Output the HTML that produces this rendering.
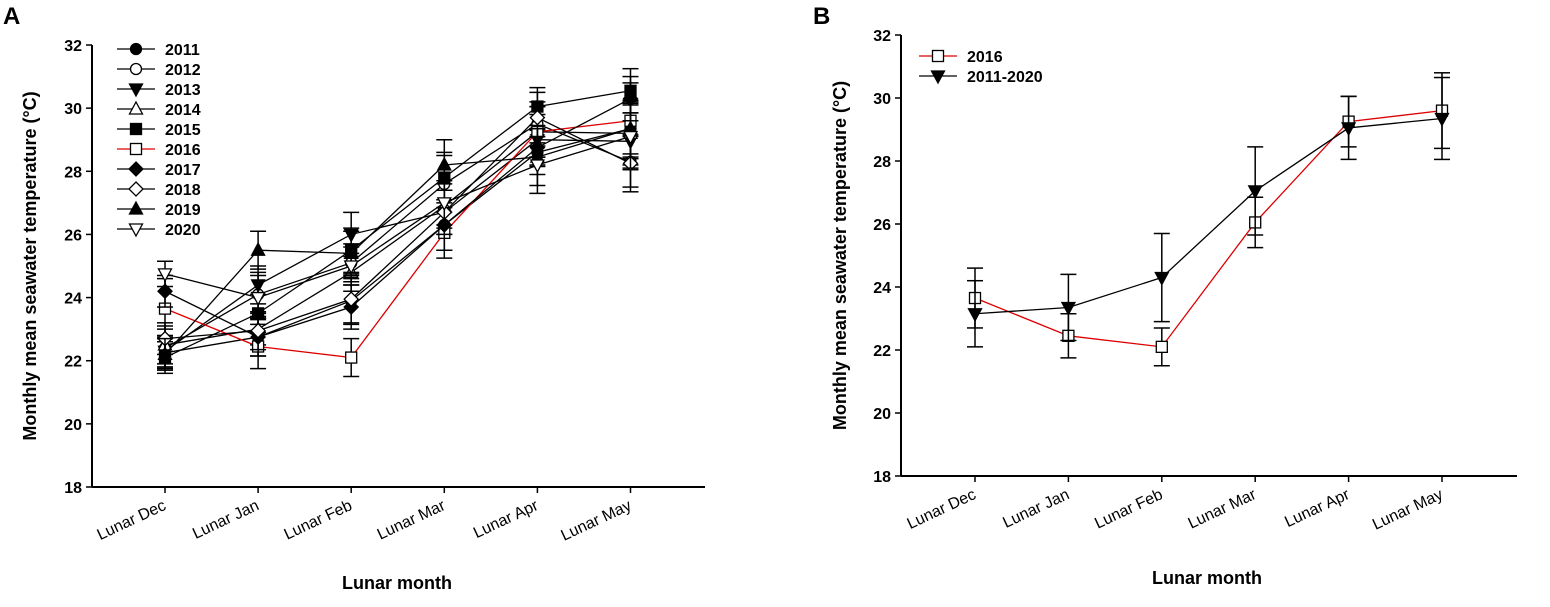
<!DOCTYPE html>
<html><head><meta charset="utf-8">
<style>
html,body{margin:0;padding:0;background:#fff;}
svg{display:block;font-family:"Liberation Sans",Arial,sans-serif;}
</style></head>
<body>
<svg id="chart" width="1550" height="607" viewBox="0 0 1550 607" xmlns="http://www.w3.org/2000/svg"></svg>
<script>
const months = ["Lunar Dec","Lunar Jan","Lunar Feb","Lunar Mar","Lunar Apr","Lunar May"];
const yTicks = [18,20,22,24,26,28,30,32];
const yearsA = ["2011","2012","2013","2014","2015","2016","2017","2018","2019","2020"];
const markersA = ["circleF","circleO","triDF","triUO","squareF","squareO","diamondF","diamondO","triUF","triDO"];
const v2011 = [22.25,22.75,23.9,26.3,28.6,29.35];
const v2012 = [22.4,24.1,25.1,27.6,29.5,28.3];
const v2013 = [22.3,24.4,26.0,26.7,29.0,28.95];
const v2014 = [22.5,23.0,24.8,26.9,29.25,29.2];
const v2015 = [22.1,23.5,25.5,27.8,30.05,30.55];
const v2016 = [23.65,22.45,22.1,26.05,29.25,29.6];
const v2017 = [24.2,22.75,23.7,26.3,28.75,30.3];
const v2018 = [22.7,22.95,23.95,26.7,29.7,28.25];
const v2019 = [22.2,25.5,25.4,28.2,28.45,29.35];
const v2020 = [24.75,24.0,25.0,27.0,28.2,29.1];
const e2011 = [0.5,0.6,0.7,0.8,0.7,0.9];
const e2012 = [0.6,0.7,0.6,0.9,0.7,0.8];
const e2013 = [0.5,0.6,0.7,0.7,0.8,0.9];
const e2014 = [0.6,0.5,0.6,0.7,0.8,1.0];
const e2015 = [0.5,0.6,0.7,0.8,0.6,0.7];
const e2016 = [0.95,0.7,0.6,0.8,0.8,1.2];
const e2017 = [0.5,0.6,0.7,0.8,0.6,0.7];
const e2018 = [0.5,0.6,0.8,0.7,0.8,0.9];
const e2019 = [0.5,0.6,0.7,0.8,0.9,0.8];
const e2020 = [0.4,0.7,0.6,0.7,0.9,1.0];
const seriesA = [v2011,v2012,v2013,v2014,v2015,v2016,v2017,v2018,v2019,v2020];
const errA = [e2011,e2012,e2013,e2014,e2015,e2016,e2017,e2018,e2019,e2020];
const namesB = ["2016","2011-2020"];
const b2016 = [23.65,22.45,22.1,26.05,29.25,29.6];
const bAll = [23.15,23.35,24.3,27.05,29.05,29.35];
const eb2016 = [0.95,0.7,0.6,0.8,0.8,1.2];
const ebAll = [1.05,1.05,1.4,1.4,1.0,1.3];

const NS="http://www.w3.org/2000/svg";
const svg=document.getElementById('chart');
function mk(tag,attrs,parent){const e=document.createElementNS(NS,tag);for(const k in attrs)e.setAttribute(k,attrs[k]);(parent||svg).appendChild(e);return e;}

function marker(g,type,cx,cy,color){
  const s=5.5; let e;
  const fill = type.endsWith('F')?'#000':'#fff';
  if(type.startsWith('circle')) e=mk('circle',{cx:cx,cy:cy,r:5.5,fill:fill,stroke:'#000','stroke-width':1.3},g);
  else if(type.startsWith('square')) e=mk('rect',{x:cx-s,y:cy-s,width:2*s,height:2*s,fill:fill,stroke:'#000','stroke-width':1.3},g);
  else if(type.startsWith('diamond')) e=mk('polygon',{points:`${cx},${cy-7} ${cx+7},${cy} ${cx},${cy+7} ${cx-7},${cy}`,fill:fill,stroke:'#000','stroke-width':1.3},g);
  else if(type.startsWith('triU')) e=mk('polygon',{points:`${cx},${cy-7} ${cx+6.5},${cy+5} ${cx-6.5},${cy+5}`,fill:fill,stroke:'#000','stroke-width':1.3},g);
  else e=mk('polygon',{points:`${cx},${cy+7} ${cx+6.5},${cy-5} ${cx-6.5},${cy-5}`,fill:fill,stroke:'#000','stroke-width':1.3},g);
  
  
}

function panel(o){
  const g=mk('g',{});
  
  
  const ys=v=>o.y0-(v-18)*(o.y0-o.y1)/14;
  const xs=i=>o.xd+i*o.step;
  const lab=mk('text',{x:o.lx,y:24,'font-size':24,'font-weight':'bold'},g);lab.textContent=o.letter;
  
  const ya=mk('line',{x1:o.ax,y1:o.y1,x2:o.ax,y2:o.y0,stroke:'#000','stroke-width':2},g);
  
  const xa=mk('line',{x1:o.ax,y1:o.y0,x2:o.xend,y2:o.y0,stroke:'#000','stroke-width':2},g);
  
  yTicks.forEach(t=>{
    mk('line',{x1:o.ax-6,y1:ys(t),x2:o.ax,y2:ys(t),stroke:'#000','stroke-width':1.5},g);
    const tx=mk('text',{x:o.ax-10,y:ys(t)+6,'font-size':16,'font-weight':'bold','text-anchor':'end'},g);
    tx.textContent=t;
  });
  months.forEach((m,i)=>{
    mk('line',{x1:xs(i),y1:o.y0,x2:xs(i),y2:o.y0+6,stroke:'#000','stroke-width':1.5},g);
    const tx=mk('text',{x:xs(i)+2,y:o.y0+22,'font-size':16,'text-anchor':'end',transform:`rotate(-25 ${xs(i)+2} ${o.y0+22})`},g);
    tx.textContent=m;
  });
  const yt=mk('text',{x:0,y:0,'font-size':18,'font-weight':'bold','text-anchor':'middle',transform:`translate(${o.ytx},${(o.y0+o.y1)/2}) rotate(-90)`},g);
  yt.textContent='Monthly mean seawater temperature (°C)';
  const xt=mk('text',{x:o.xtx,y:o.xty,'font-size':18,'font-weight':'bold','text-anchor':'middle'},g);
  xt.textContent='Lunar month';
  o.series.forEach((vals,si)=>{
    const sg=mk('g',{},g);
    
    
    const col=o.colors[si];
    vals.forEach((v,i)=>{
      const e=o.errs[si][i];
      mk('line',{x1:xs(i),y1:ys(v-e),x2:xs(i),y2:ys(v+e),stroke:'#000','stroke-width':1.5},sg);
      mk('line',{x1:xs(i)-8,y1:ys(v-e),x2:xs(i)+8,y2:ys(v-e),stroke:'#000','stroke-width':1.5},sg);
      mk('line',{x1:xs(i)-8,y1:ys(v+e),x2:xs(i)+8,y2:ys(v+e),stroke:'#000','stroke-width':1.5},sg);
    });
    mk('polyline',{points:vals.map((v,i)=>xs(i)+','+ys(v)).join(' '),fill:'none',stroke:col,'stroke-width':1.3},sg);
    vals.forEach((v,i)=>marker(sg,o.markers[si],xs(i),ys(v),col));
  });
  o.names.forEach((n,i)=>{
    const ly=o.legY+i*o.legDy;
    const lg=mk('g',{},g);
    
    
    mk('line',{x1:o.legX,y1:ly,x2:o.legX+38,y2:ly,stroke:o.colors[i],'stroke-width':1.3},lg);
    marker(lg,o.markers[i],o.legX+19,ly,o.colors[i]);
    const t=mk('text',{x:o.legX+48,y:ly+6,'font-size':16,'font-weight':'bold'},lg);t.textContent=n;
  });
}
const colA=yearsA.map(y=>y==='2016'?'#d00':'#000');
panel({id:'a',letter:'A',lx:3,ax:92,xend:705,y0:487,y1:45,xd:165,step:93.1,ytx:36,xtx:397,xty:589,
  series:seriesA,errs:errA,names:yearsA,markers:markersA,colors:colA,legX:117,legY:49,legDy:20});
panel({id:'b',letter:'B',lx:813,ax:901,xend:1517,y0:476,y1:35,xd:975,step:93.4,ytx:846,xtx:1207,xty:584,
  series:[b2016,bAll],errs:[eb2016,ebAll],names:namesB,markers:["squareO","triDF"],colors:['#d00','#000'],legX:919,legY:56,legDy:20});
</script>
</body></html>
